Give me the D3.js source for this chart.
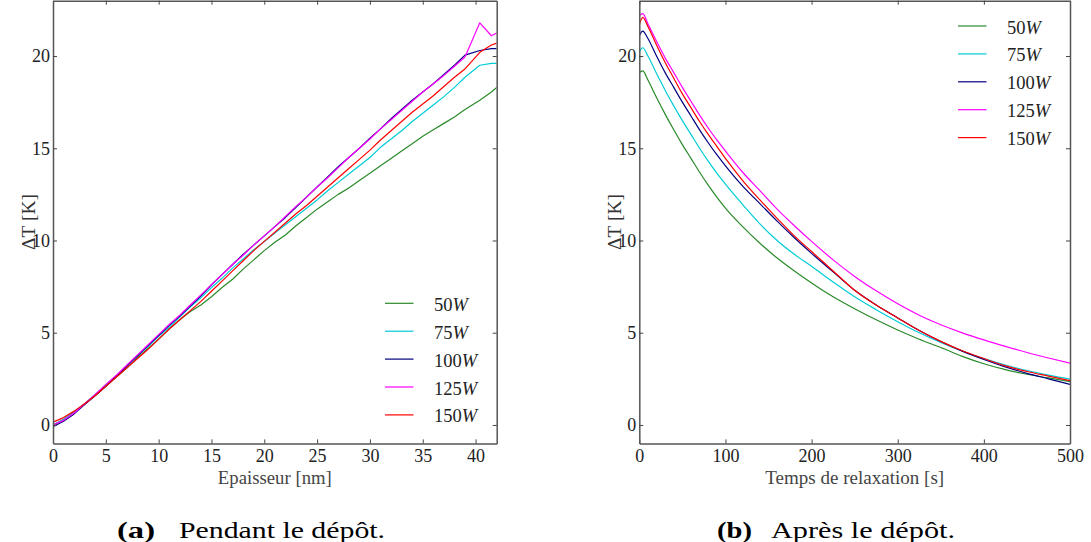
<!DOCTYPE html>
<html>
<head>
<meta charset="utf-8">
<script src="https://cdn.jsdelivr.net/npm/d3@7"></script>
<style>
  html, body { margin: 0; padding: 0; background: #fff; }
  svg { display: block; }
</style>
</head>
<body>
<svg id="chart" width="1091" height="542"></svg>
<script>
// ---------- DATA ----------
const seriesNames = ["50", "75", "100", "125", "150"];
const seriesColors = ["#2a8a2a", "#00ccd6", "#000080", "#ff00ff", "#ff0000"];

// (a) Pendant le dépôt
const thickness = [0,1,2,3,4,5,6,7,8,9,10,11,12,13,14,15,16,17,18,19,20,21,22,23,24,25,26,27,28,29,30,31,32,33,34,35,36,37,38,39,40.4,41.5,42];
const depot50W  = [0.0,0.3,0.7,1.15,1.6,2.1,2.6,3.1,3.65,4.15,4.65,5.2,5.7,6.15,6.5,6.95,7.45,7.9,8.45,8.95,9.45,9.9,10.3,10.8,11.25,11.7,12.1,12.5,12.85,13.25,13.65,14.05,14.45,14.85,15.25,15.65,16.0,16.35,16.7,17.1,17.6,18.05,18.3];
const depot75W  = [0.0,0.3,0.7,1.15,1.65,2.15,2.65,3.2,3.75,4.25,4.8,5.3,5.85,6.4,6.9,7.45,7.95,8.5,9.0,9.5,9.95,10.4,10.85,11.3,11.75,12.2,12.7,13.15,13.6,14.05,14.5,15.05,15.5,15.95,16.45,16.9,17.35,17.8,18.3,18.85,19.5,19.6,19.6];
const depot100W = [-0.1,0.2,0.6,1.1,1.6,2.1,2.65,3.2,3.75,4.3,4.85,5.4,5.9,6.45,7.0,7.6,8.15,8.7,9.25,9.75,10.25,10.75,11.25,11.8,12.35,12.9,13.45,14.0,14.5,15.0,15.55,16.05,16.6,17.1,17.6,18.05,18.5,19.0,19.5,20.05,20.3,20.4,20.4];
const depot125W = [0.0,0.25,0.65,1.15,1.65,2.2,2.7,3.25,3.8,4.35,4.9,5.45,5.95,6.5,7.05,7.6,8.15,8.7,9.2,9.75,10.25,10.75,11.3,11.85,12.35,12.9,13.4,13.95,14.5,15.0,15.5,16.05,16.55,17.05,17.55,18.05,18.5,18.95,19.45,19.95,21.8,21.1,21.25];
const depot150W = [0.15,0.4,0.75,1.15,1.6,2.1,2.6,3.1,3.6,4.1,4.65,5.2,5.7,6.2,6.7,7.25,7.8,8.35,8.9,9.45,9.95,10.45,10.95,11.45,11.9,12.4,12.9,13.4,13.9,14.4,14.9,15.45,15.95,16.45,16.95,17.4,17.85,18.35,18.85,19.3,20.2,20.6,20.7];

// (b) Après le dépôt
const relaxTime = [0,4,10,20,30,40,50,60,70,80,90,100,120,140,160,180,200,225,250,275,300,325,350,375,400,425,450,475,500];
const apres50W  = [19.1,19.2,18.7,17.75,16.85,16.0,15.2,14.45,13.7,13.0,12.35,11.75,10.75,9.85,9.05,8.35,7.7,6.95,6.3,5.7,5.15,4.65,4.2,3.72,3.32,3.0,2.75,2.55,2.35];
const apres75W  = [20.2,20.45,20.0,19.05,18.15,17.3,16.5,15.75,15.0,14.3,13.65,13.05,11.95,10.9,10.0,9.25,8.6,7.75,6.95,6.25,5.6,5.0,4.47,4.0,3.6,3.25,2.95,2.7,2.48];
const apres100W = [21.1,21.35,20.95,20.0,19.1,18.3,17.5,16.75,16.0,15.3,14.65,14.05,12.95,12.0,11.05,10.15,9.3,8.3,7.3,6.5,5.8,5.12,4.52,4.0,3.55,3.15,2.8,2.5,2.2];
const apres125W = [22.2,22.3,21.75,20.8,19.9,19.1,18.3,17.55,16.8,16.1,15.45,14.85,13.7,12.7,11.7,10.8,9.95,8.95,8.05,7.27,6.57,5.95,5.43,4.99,4.61,4.26,3.93,3.63,3.35];
const apres150W = [21.7,22.1,21.6,20.6,19.65,18.8,17.95,17.2,16.45,15.75,15.1,14.45,13.25,12.2,11.2,10.25,9.4,8.35,7.3,6.5,5.8,5.12,4.53,4.02,3.6,3.2,2.9,2.65,2.4];

const yTicks = [0, 5, 10, 15, 20];
const xTicksA = [0, 5, 10, 15, 20, 25, 30, 35, 40];
const xTicksB = [0, 100, 200, 300, 400, 500];

// ---------- DRAW ----------
const svg = d3.select("#chart");
const SERIF = "'Liberation Serif', serif";

function panel(cfg) {
  const x = d3.scaleLinear().domain(cfg.xDomain).range([cfg.left, cfg.right]);
  const y = d3.scaleLinear().domain([-1, 23]).range([443.4, 0.7]);
  const g = svg.append("g");
  const clipId = "clip-" + cfg.id;
  svg.append("defs").append("clipPath").attr("id", clipId)
    .append("rect").attr("x", cfg.left).attr("y", 0.7)
    .attr("width", cfg.right - cfg.left).attr("height", 443.4 - 0.7);

  const line = d3.line().x((d, i) => x(cfg.xs[i])).y(d => y(d));
  if (cfg.curve) line.curve(cfg.curve);
  const lg = g.append("g").attr("clip-path", `url(#${clipId})`);
  cfg.series.forEach((s, k) => {
    lg.append("path").datum(s)
      .attr("d", line)
      .attr("fill", "none")
      .attr("stroke", seriesColors[k])
      .attr("stroke-width", 1.2)
      .attr("stroke-linejoin", "round");
  });

  const styleAxis = (ax) => {
    ax.attr("font-family", null).attr("font-size", null);
    ax.selectAll(".domain").attr("stroke", "#555").attr("stroke-width", 1.5);
    ax.selectAll(".tick line").attr("stroke", "#444").attr("stroke-width", 1);
    ax.selectAll("text").style("font-family", SERIF).style("font-size", "18px").attr("fill", "#222");
  };

  const bottom = g.append("g").attr("transform", `translate(0,${y(-1)})`)
    .call(d3.axisBottom(x).tickValues(cfg.xTicks).tickSize(-4).tickSizeOuter(0).tickPadding(6).tickFormat(d3.format("d")));
  styleAxis(bottom);
  const top = g.append("g").attr("transform", `translate(0,${y(23)})`)
    .call(d3.axisTop(x).tickValues(cfg.xTicks).tickSize(-4).tickSizeOuter(0).tickFormat(""));
  styleAxis(top);
  const left = g.append("g").attr("transform", `translate(${cfg.left},0)`)
    .call(d3.axisLeft(y).tickValues(yTicks).tickSize(-4).tickSizeOuter(0).tickPadding(3).tickFormat(d3.format("d")));
  styleAxis(left);
  const right = g.append("g").attr("transform", `translate(${cfg.right},0)`)
    .call(d3.axisRight(y).tickValues(yTicks).tickSize(-4).tickSizeOuter(0).tickFormat(""));
  styleAxis(right);

  // axis labels
  g.append("text").attr("x", (cfg.left + cfg.right) / 2).attr("y", 484)
    .attr("text-anchor", "middle").style("font-family", SERIF).style("font-size", "18px")
    .attr("fill", "#444").attr("textLength", cfg.xLabelLen).attr("lengthAdjust", "spacingAndGlyphs")
    .text(cfg.xLabel);
  g.append("text").attr("transform", `translate(${cfg.yLabelX},222) rotate(-90)`)
    .attr("text-anchor", "middle").style("font-family", SERIF).style("font-size", "18px")
    .attr("fill", "#333").attr("textLength", 56).attr("lengthAdjust", "spacingAndGlyphs")
    .text("ΔT [K]");

  // legend
  seriesNames.forEach((n, k) => {
    const ly = cfg.legY + k * 27.9;
    g.append("line").attr("x1", cfg.legX).attr("x2", cfg.legX + 28.5)
      .attr("y1", ly).attr("y2", ly)
      .attr("stroke", seriesColors[k]).attr("stroke-width", 1.2);
    const t = g.append("text").attr("x", cfg.legX + 49).attr("y", ly + 7.5)
      .style("font-family", SERIF).style("font-size", "18.5px").attr("fill", "#222");
    t.append("tspan").text(n);
    t.append("tspan").attr("font-style", "italic").text("W");
  });

  // caption
  svg.append("text").attr("x", cfg.capX).attr("y", 538)
    .style("font-family", SERIF).style("font-size", "23px").attr("font-weight", "bold")
    .attr("fill", "#000").attr("textLength", cfg.capTagLen).attr("lengthAdjust", "spacingAndGlyphs")
    .text(cfg.capTag);
  svg.append("text").attr("x", cfg.capTextX).attr("y", 538)
    .style("font-family", SERIF).style("font-size", "23px")
    .attr("fill", "#000").attr("textLength", cfg.capTextLen).attr("lengthAdjust", "spacingAndGlyphs")
    .text(cfg.capText);
}

panel({
  id: "a", xDomain: [0, 42], left: 53, right: 496.7,
  xs: thickness, series: [depot50W, depot75W, depot100W, depot125W, depot150W],
  xTicks: xTicksA, xLabel: "Epaisseur [nm]", xLabelLen: 114, yLabelX: 35,
  legX: 385, legY: 303.3,
  capX: 117, capTag: "(a)", capTagLen: 38, capTextX: 179, capText: "Pendant le dépôt.", capTextLen: 206
});

panel({
  id: "b", xDomain: [0, 500], left: 639.3, right: 1070,
  xs: relaxTime, series: [apres50W, apres75W, apres100W, apres125W, apres150W], curve: d3.curveMonotoneX,
  xTicks: xTicksB, xLabel: "Temps de relaxation [s]", xLabelLen: 179, yLabelX: 621,
  legX: 958, legY: 26,
  capX: 717, capTag: "(b)", capTagLen: 35, capTextX: 771, capText: "Après le dépôt.", capTextLen: 184
});
</script>
</body>
</html>
